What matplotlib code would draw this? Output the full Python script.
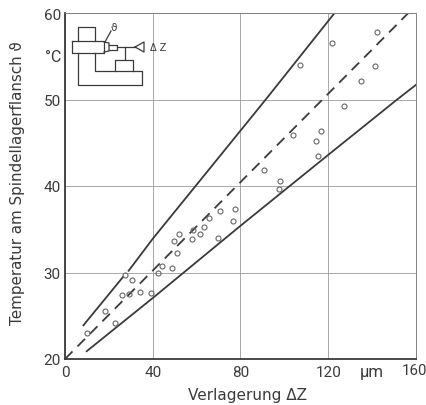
import numpy as np
import matplotlib
matplotlib.use('Agg')
import matplotlib.pyplot as plt

plt.rcParams['font.family'] = ['DejaVu Sans']

"""Data"""
pts_x = [10.2, 18.4, 22.8, 25.8, 27.5, 29.0, 30.7, 34.0, 39.4, 42.6, 44.4, 48.8, 51.2, 49.7, 52.0,
         58.1, 58.4, 61.7, 63.2, 65.7, 70.6, 77.6, 76.6, 69.9,
         142.1, 121.6, 107.0, 141.4, 135.0, 127.2, 116.8, 103.9, 114.3, 115.3, 90.7, 98.1, 97.5]
pts_y = [23.0, 25.6, 24.2, 27.4, 29.7, 27.5, 29.1, 27.7, 27.6, 29.9, 30.7, 30.5, 32.3, 33.6, 34.5,
         33.9, 34.9, 34.4, 35.3, 36.3, 37.1, 37.3, 36.0, 34.0,
         57.8, 56.5, 54.0, 53.9, 52.1, 49.3, 46.4, 45.9, 45.2, 43.5, 41.9, 40.6, 39.6]

upper1_x = [8.4, 26.5]
upper1_y = [23.9, 29.5]
upper2_x = [29.0, 40, 80, 91.5, 122.9]
upper2_y = [30.2, 33.9, 46.4, 50.0, 60.0]
lower_x = [9.9, 40, 80, 120, 151.4, 160]
lower_y = [20.9, 27.05, 35.4, 43.6, 50.0, 51.7]
mean_x = [0, 156.5]
mean_y = [20, 60]

xticks = [0, 40, 80, 120, 160]
xtick_labels = ['0', '40', '80', '120', '']  # 160 is placed by hand, it would hit the edge
yticks = [20, 30, 40, 50, 60]

# sketch in the upper left corner, figure pixels
sketch = [
    [(78, 42), (78, 28), (95, 28), (95, 42)],
    [(72, 42), (104, 42), (104, 54), (72, 54), (72, 42)],
    [(104, 43), (109, 44), (109, 52), (104, 53)],
    [(109, 46), (117, 46), (117, 51), (109, 51)],
    [(117, 48), (135, 48)],
    [(135, 48), (144, 43), (144, 53), (135, 48)],
    [(125, 48), (125, 60)],
    [(115, 72), (115, 61), (133, 61), (133, 72)],
    [(78, 54), (78, 86), (142, 86), (142, 72), (95, 72), (95, 54)],
    [(105, 43), (111, 32)],
]

dark = '#3a3a3a'
tick_font = ['Roboto', 'DejaVu Sans']

fig = plt.figure(figsize=(4.27, 4.06), dpi=100, facecolor='white')
ax = fig.add_axes([65/427, 1-360/406, 351/427, 346/406])

ax.set_xlim(0, 160)
ax.set_ylim(20, 60)
ax.set_xticks(xticks)
ax.set_xticklabels(xtick_labels)
ax.set_yticks(yticks)
ax.tick_params(length=0, labelsize=11, labelcolor=dark)
ax.tick_params(axis='x', pad=4)
ax.tick_params(axis='y', pad=3)
for lab in ax.get_xticklabels() + ax.get_yticklabels():
    lab.set_family(tick_font)
ax.grid(True, color='#9a9a9a', linewidth=0.6)
ax.set_axisbelow(True)

ax.spines['left'].set_linewidth(1.3)
ax.spines['left'].set_color(dark)
ax.spines['bottom'].set_linewidth(1.3)
ax.spines['bottom'].set_color(dark)
ax.spines['top'].set_linewidth(0.7)
ax.spines['top'].set_color('#808080')
ax.spines['right'].set_linewidth(0.7)
ax.spines['right'].set_color('#808080')

ax.plot(upper1_x, upper1_y, color=dark, linewidth=1.3)
ax.plot(upper2_x, upper2_y, color=dark, linewidth=1.3)
ax.plot(lower_x, lower_y, color=dark, linewidth=1.3)
ax.plot(mean_x, mean_y, color=dark, linewidth=1.3, linestyle=(0, (5.9, 3.9)))
ax.plot(pts_x, pts_y, linestyle='none', marker='o', markersize=3.6, markerfacecolor='none',
        markeredgecolor='#666666', markeredgewidth=0.8, clip_on=False)

ax.set_xlabel('Verlagerung ΔZ', fontsize=11, color=dark, labelpad=6, x=0.52)
ax.set_ylabel('Temperatur am Spindellagerflansch ϑ', fontsize=10.9, color=dark, labelpad=13, y=0.51)

# overlay in pixel coordinates for the sketch and the free labels
ov = fig.add_axes([0, 0, 1, 1], facecolor='none')
ov.set_xlim(0, 427)
ov.set_ylim(406, 0)
ov.axis('off')
for seg in sketch:
    ov.plot([p[0] for p in seg], [p[1] for p in seg], color=dark, linewidth=0.9)
ov.text(114, 28, 'ϑ', fontsize=7.5, color=dark, ha='center', va='center')
ov.text(158, 48, 'Δ Z', fontsize=7, color=dark, ha='center', va='center')
ov.text(53, 57, '°C', fontsize=11.5, color=dark, ha='center', va='center', family=tick_font)
ov.text(372, 373, 'μm', fontsize=12, color=dark, ha='center', va='center', family=tick_font)
ov.text(414.5, 371, '160', fontsize=10.8, color=dark, ha='center', va='center', family=tick_font)

fig.savefig('out.png', dpi=100)
